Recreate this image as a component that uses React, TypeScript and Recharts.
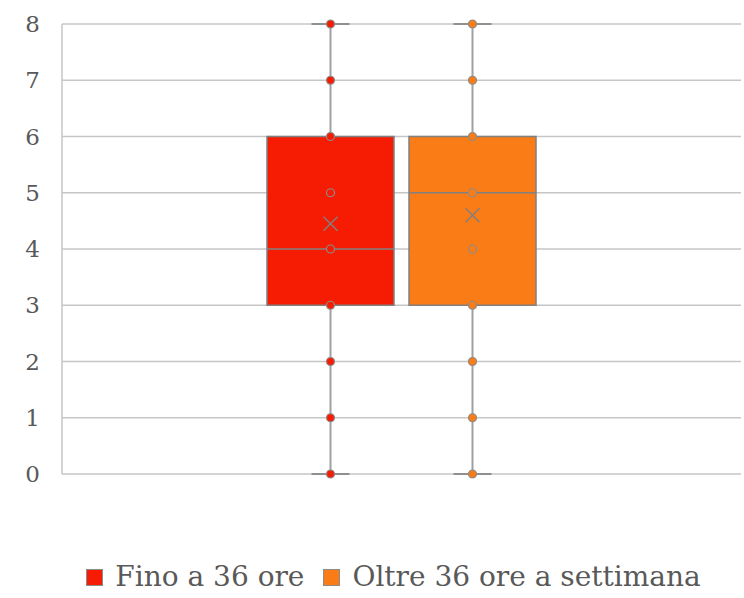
import React from 'react';
import { ComposedChart, Bar, XAxis, YAxis, CartesianGrid, Legend } from 'recharts';

// one category, two box series (Excel-style box & whisker)
const categories = [''];
const seriesNames = ['Fino a 36 ore', 'Oltre 36 ore a settimana'];
const seriesColors = ['#f51c03', '#f97c16'];

// [min, q1, median, q3, max]
const finoBox = [0, 3, 4, 6, 8];
const oltreBox = [0, 3, 5, 6, 8];
const finoMean = 4.45;
const oltreMean = 4.6;
const finoPoints = [0, 1, 2, 3, 4, 5, 6, 7, 8];
const oltrePoints = [0, 1, 2, 3, 4, 5, 6, 7, 8];

const yTicks = [0, 1, 2, 3, 4, 5, 6, 7, 8];

const FONT = '"DejaVu Serif", serif';
const TEXT = '#595959';
const GRID = '#c6c6c6';
const EDGE = '#808080';

const data = categories.map((name) => ({
  name,
  fino: [finoBox[1], finoBox[3]],
  oltre: [oltreBox[1], oltreBox[3]],
}));

const makeBox = (box: number[], mean: number, points: number[], color: string) => (props: any) => {
  const { x, y, width, height } = props;
  const top = Math.min(y, y + height);
  const h = Math.abs(height);
  const q1 = box[1];
  const q3 = box[3];
  const ppu = h / (q3 - q1);
  const toY = (v: number) => top + (q3 - v) * ppu;
  const cx = x + width / 2;
  const cap = 19;
  const m = 7;
  return (
    <g>
      <line x1={cx} x2={cx} y1={toY(box[4])} y2={toY(box[0])} stroke="#a0a0a0" strokeWidth={2} />
      <line x1={cx - cap} x2={cx + cap} y1={toY(box[4])} y2={toY(box[4])} stroke="#909090" strokeWidth={2} />
      <line x1={cx - cap} x2={cx + cap} y1={toY(box[0])} y2={toY(box[0])} stroke="#909090" strokeWidth={2} />
      <rect x={x} y={top} width={width} height={h} fill={color} stroke={EDGE} strokeWidth={1.5} />
      <line x1={x} x2={x + width} y1={toY(box[2])} y2={toY(box[2])} stroke={EDGE} strokeWidth={1.5} />
      {points.map((p, i) => (
        <circle key={i} cx={cx} cy={toY(p)} r={4} fill={color} stroke="#8c8c8c" strokeWidth={1.2} />
      ))}
      <line x1={cx - m} x2={cx + m} y1={toY(mean) - m} y2={toY(mean) + m} stroke={EDGE} strokeWidth={1.5} />
      <line x1={cx - m} x2={cx + m} y1={toY(mean) + m} y2={toY(mean) - m} stroke={EDGE} strokeWidth={1.5} />
    </g>
  );
};

const renderLegend = () => (
  <div
    style={{
      height: 119,
      display: 'flex',
      alignItems: 'flex-end',
      justifyContent: 'center',
      paddingLeft: 46,
      boxSizing: 'border-box',
      fontFamily: FONT,
      fontSize: 28,
      lineHeight: '32px',
      color: TEXT,
    }}
  >
    {seriesNames.map((n, i) => (
      <div key={n} style={{ display: 'flex', alignItems: 'center', marginRight: i === 0 ? 19 : 0 }}>
        <span
          style={{
            display: 'inline-block',
            width: 15,
            height: 15,
            background: seriesColors[i],
            border: '1px solid #8c8c8c',
            marginRight: 12,
          }}
        />
        <span>{n}</span>
      </div>
    ))}
  </div>
);

export default function App() {
  return (
    <div style={{ width: 744, height: 598, background: '#fff' }}>
      <style>{'body{margin:0}'}</style>
      <ComposedChart
        width={744}
        height={598}
        data={data}
        margin={{ top: 24, right: 3, left: 0, bottom: 5 }}
        barGap={15}
      >
        <CartesianGrid vertical={false} stroke={GRID} strokeWidth={1.5} />
        <XAxis dataKey="name" hide />
        <YAxis
          domain={[0, 8]}
          ticks={yTicks}
          width={62}
          interval={0}
          tickLine={false}
          axisLine={{ stroke: GRID, strokeWidth: 1.5 }}
          tickMargin={16}
          tick={{ fill: TEXT, fontSize: 23, fontFamily: FONT }}
        />
        <Legend verticalAlign="bottom" content={renderLegend} />
        <Bar
          dataKey="fino"
          name={seriesNames[0]}
          barSize={127}
          isAnimationActive={false}
          shape={makeBox(finoBox, finoMean, finoPoints, seriesColors[0])}
        />
        <Bar
          dataKey="oltre"
          name={seriesNames[1]}
          barSize={127}
          isAnimationActive={false}
          shape={makeBox(oltreBox, oltreMean, oltrePoints, seriesColors[1])}
        />
      </ComposedChart>
    </div>
  );
}
